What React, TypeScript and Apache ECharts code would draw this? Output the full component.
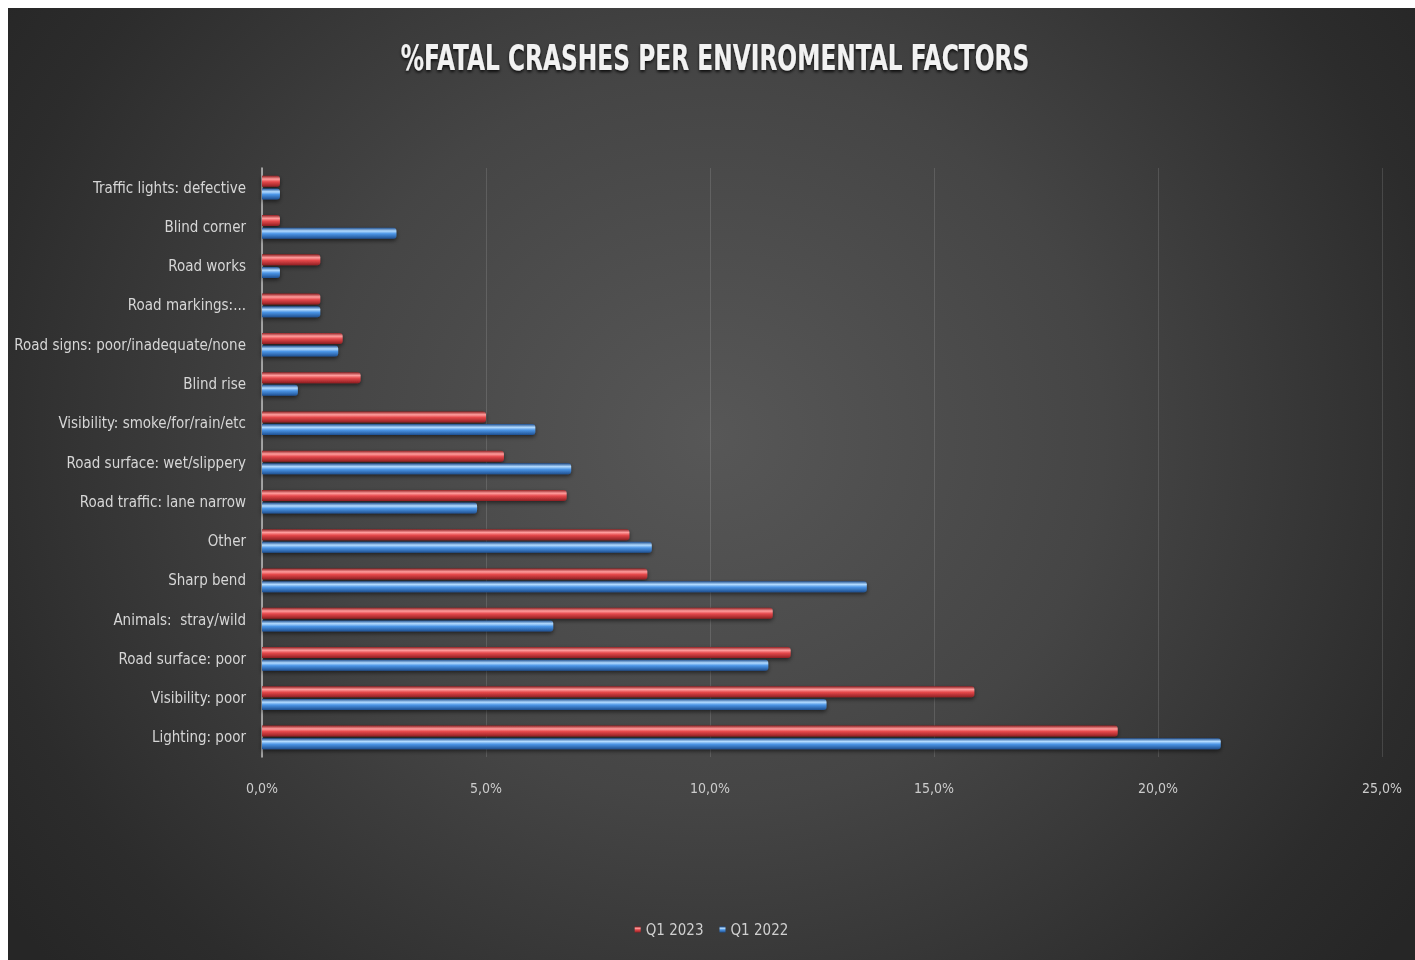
import React, { useEffect, useRef } from "react";
import * as echarts from "echarts";

// Factors listed top to bottom as they appear on the chart
const categories = [
  "Traffic lights: defective",
  "Blind corner",
  "Road works",
  "Road markings:...",
  "Road signs: poor/inadequate/none",
  "Blind rise",
  "Visibility: smoke/for/rain/etc",
  "Road surface: wet/slippery",
  "Road traffic: lane narrow",
  "Other",
  "Sharp bend",
  "Animals:  stray/wild",
  "Road surface: poor",
  "Visibility: poor",
  "Lighting: poor",
];

// Share of fatal crashes (%)
const q1_2023 = [0.4, 0.4, 1.3, 1.3, 1.8, 2.2, 5.0, 5.4, 6.8, 8.2, 8.6, 11.4, 11.8, 15.9, 19.1];
const q1_2022 = [0.4, 3.0, 0.4, 1.3, 1.7, 0.8, 6.1, 6.9, 4.8, 8.7, 13.5, 6.5, 11.3, 12.6, 21.4];

const xTicks = [0, 5, 10, 15, 20, 25];

const FONT = '"Liberation Sans Narrow", "DejaVu Sans Condensed", "Open Sans", sans-serif';

const tube = (dark: string, mid: string, light: string) =>
  new echarts.graphic.LinearGradient(0, 0, 0, 1, [
    { offset: 0, color: dark },
    { offset: 0.3, color: light },
    { offset: 0.55, color: mid },
    { offset: 1, color: dark },
  ]);

export default function App() {
  const ref = useRef<HTMLDivElement>(null);

  useEffect(() => {
    if (!ref.current) return;
    const chart = echarts.init(ref.current, undefined, { renderer: "svg" });

    const barStyle = (dark: string, mid: string, light: string) => ({
      color: tube(dark, mid, light),
      borderRadius: [0, 3, 3, 0],
      shadowColor: "rgba(0,0,0,0.55)",
      shadowBlur: 4,
      shadowOffsetY: 2,
    });

    chart.setOption({
      animation: false,
      backgroundColor: "transparent",
      graphic: [
        {
          type: "text",
          x: 707,
          y: 49,
          scaleX: 0.72,
          style: {
            text: "%FATAL CRASHES PER ENVIROMENTAL FACTORS",
            fill: "#f2f2f2",
            font: 'bold 36px "Liberation Sans Narrow", "DejaVu Sans Condensed", "Open Sans", sans-serif',
            textAlign: "center",
            textVerticalAlign: "middle",
            textShadowColor: "rgba(0,0,0,0.8)",
            textShadowBlur: 3,
            textShadowOffsetY: 2,
          },
        },
      ],
      legend: {
        data: ["Q1 2023", "Q1 2022"],
        left: "center",
        top: 909,
        icon: "rect",
        itemWidth: 6,
        itemHeight: 6,
        itemGap: 16,
        textStyle: { color: "#d0d0d0", fontSize: 15, fontFamily: FONT },
      },
      grid: {
        left: 254,
        right: 33,
        top: 160,
        bottom: 203,
        containLabel: false,
        outerBoundsMode: "none",
      },
      xAxis: {
        type: "value",
        min: xTicks[0],
        max: xTicks[xTicks.length - 1],
        interval: 5,
        axisLine: { show: false },
        axisTick: { show: false },
        splitLine: { show: true, lineStyle: { color: "rgba(255,255,255,0.13)", width: 1 } },
        axisLabel: {
          color: "#cccccc",
          fontSize: 14,
          fontFamily: FONT,
          margin: 24,
          formatter: (v: number) => v.toFixed(1).replace(".", ",") + "%",
        },
      },
      yAxis: {
        type: "category",
        data: categories,
        inverse: true,
        axisLine: { show: true, lineStyle: { color: "#bfbfbf", width: 1.5 } },
        axisTick: { show: false },
        axisLabel: { color: "#d6d6d6", fontSize: 15, fontFamily: FONT, margin: 16 },
      },
      series: [
        {
          name: "Q1 2023",
          type: "bar",
          data: q1_2023,
          barWidth: 11,
          barGap: "15%",
          itemStyle: barStyle("#8f1f22", "#e5484b", "#ff9d9d"),
        },
        {
          name: "Q1 2022",
          type: "bar",
          data: q1_2022,
          barWidth: 11,
          itemStyle: barStyle("#1f4f8f", "#4b95e6", "#b3dbff"),
        },
      ],
    });

    return () => chart.dispose();
  }, []);

  return (
    <div
      ref={ref}
      style={{
        position: "fixed",
        left: 8,
        top: 8,
        width: 1407,
        height: 952,
        background:
          "radial-gradient(ellipse 62% 85% at 50% 45%, #575757 0%, #454545 45%, #2c2c2c 85%, #262626 100%)",
      }}
    />
  );
}
